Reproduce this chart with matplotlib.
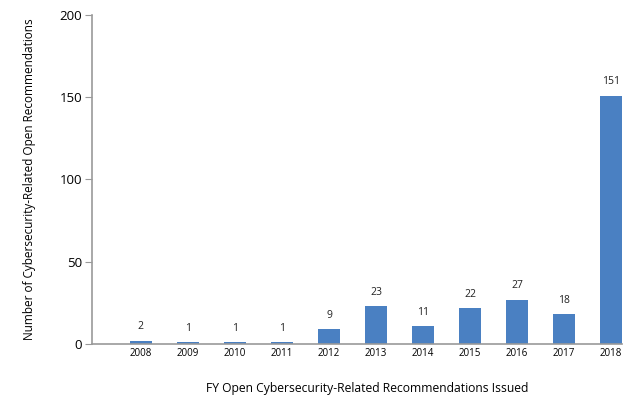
import matplotlib
matplotlib.use('Agg')
from matplotlib import pyplot as plt

years = ['2008', '2009', '2010', '2011', '2012', '2013', '2014', '2015', '2016', '2017', '2018']
open_recs = [2, 1, 1, 1, 9, 23, 11, 22, 27, 18, 151]
y_ticks = [0, 50, 100, 150, 200]

plt.rcParams['font.family'] = ['Open Sans', 'DejaVu Sans']

fig = plt.figure(figsize=(6.37, 3.98), dpi=100)
ax = fig.add_axes([0.1444, 0.1357, 0.8321, 0.8266])

x = list(range(len(years)))
bars = ax.bar(x, open_recs, width=0.47, color='#4a80c2', edgecolor='none')
for xi, v in zip(x, open_recs):
    ax.text(xi, v + 5, str(v), ha='center', va='bottom', fontsize=7.5, color='#222222')

ax.set_xlim(-1.04, 10.23)
ax.set_ylim(0, 200)
ax.set_yticks(y_ticks)
ax.set_yticklabels([str(t) for t in y_ticks], fontsize=9.5)
ax.set_xticks(x)
ax.set_xticklabels(years, fontsize=7)
ax.tick_params(axis='x', length=0, pad=3)
ax.tick_params(axis='y', length=5, width=0.8, color='#999999', pad=2)

for side in ['top', 'right']:
    ax.spines[side].set_visible(False)
for side in ['left', 'bottom']:
    ax.spines[side].set_color('#999999')
    ax.spines[side].set_linewidth(1.2)

ax.set_ylabel('Number of Cybersecurity-Related Open Recommendations', fontsize=8.5, labelpad=17)
ax.set_xlabel('FY Open Cybersecurity-Related Recommendations Issued', fontsize=8.7)
ax.xaxis.set_label_coords(0.52, -0.115)

fig.savefig('out.png', dpi=100)
